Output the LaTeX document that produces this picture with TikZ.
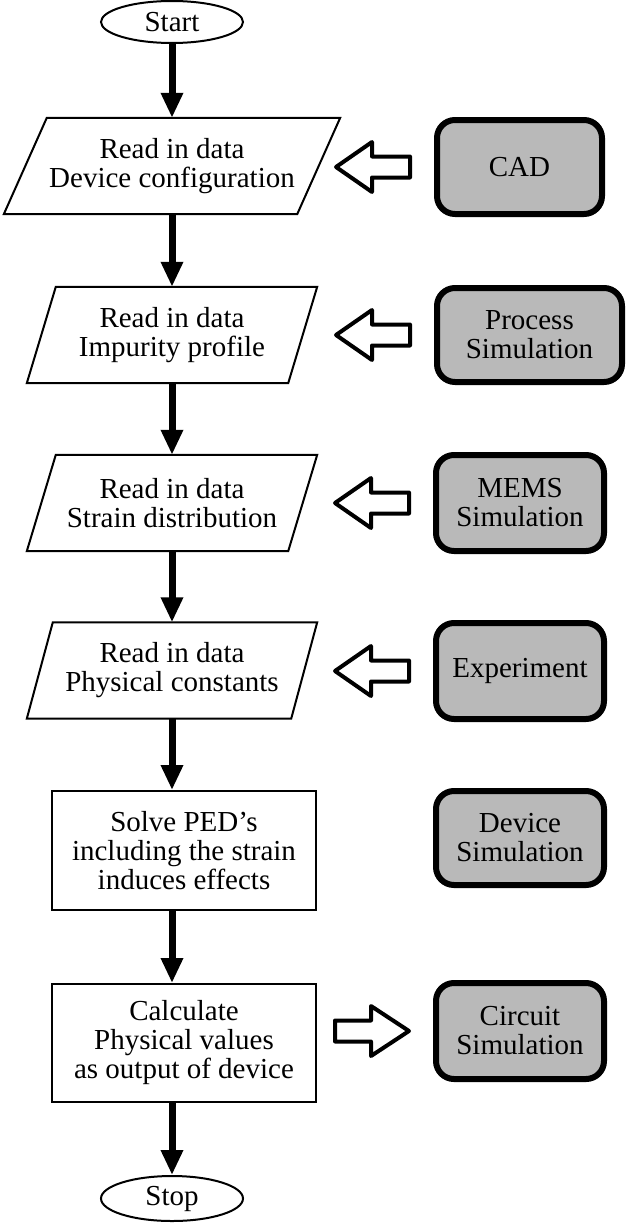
\documentclass[tikz,border=0pt]{standalone}
\usepackage{fontspec}
\setmainfont{Liberation Serif}
\usetikzlibrary{shapes.geometric,arrows.meta,calc}

\tikzset{
  txt/.style={font=\fontsize{29}{29}\selectfont, align=center, inner sep=0pt},
  term/.style={txt, ellipse, draw, line width=2pt, minimum width=142, minimum height=42},
  inbox/.style={txt, minimum height=96},
  procbox/.style={txt, draw, line width=2pt, minimum width=264, minimum height=119},
  toolbox/.style={txt, draw, line width=6pt, rounded corners=18pt, fill=gray!55, minimum width=168, minimum height=94},
  flow/.style={line width=7pt, -{Triangle[width=21pt,length=25pt]}},
  hollow/.style={line width=4pt, line join=round, fill=white},
}

\begin{document}
\begin{tikzpicture}[x=1pt, y=-1pt]
  \useasboundingbox (0,0) rectangle (626,1223);

  % Ablauf (linke Spalte)
  \node[term] (start) at (172,22) {Start};
  \node[inbox, minimum width=293] (in1) at (172,166) {Read in data\\Device configuration};
  \node[inbox, minimum width=261] (in2) at (172,335) {Read in data\\Impurity profile};
  \node[inbox, minimum width=261] (in3) at (172,503) {Read in data\\Strain distribution};
  \node[inbox, minimum width=264] (in4) at (172,670.5) {Read in data\\Physical constants};
  \node[procbox] (solve) at (184,850.5) {Solve PED’s\\including the strain\\induces effects};
  \node[procbox, minimum height=118] (calc) at (184,1043) {Calculate\\Physical values\\as output of device};
  \node[term, minimum height=45] (stop) at (172,1198.5) {Stop};

  % Parallelogramme um die Eingaben
  \foreach \n/\s in {in1/21.5, in2/14.5, in3/14.5, in4/13}
    \draw[line width=2pt] ($(\n.south west)+(-\s,0)$) -- ($(\n.north west)+(\s,0)$)
      -- ($(\n.north east)+(\s,0)$) -- ($(\n.south east)+(-\s,0)$) -- cycle;

  % Werkzeuge (rechte Spalte)
  \node[toolbox, minimum width=165] (cad) at (519.5,167) {CAD};
  \node[toolbox, minimum width=185] (process) at (529.5,335) {Process\\Simulation};
  \node[toolbox, minimum height=96] (mems) at (520,503) {MEMS\\Simulation};
  \node[toolbox, minimum height=96] (expt) at (520,671) {Experiment};
  \node[toolbox] (device) at (520,838) {Device\\Simulation};
  \node[toolbox, minimum height=96] (circuit) at (520,1031) {Circuit\\Simulation};

  % Pfeile
  \draw[flow] (start) -- (in1);
  \draw[flow] (in1) -- (in2);
  \draw[flow] (in2) -- (in3);
  \draw[flow] (in3) -- (in4);
  \draw[flow] (in4) -- (in4 |- solve.north);
  \draw[flow] (start |- solve.south) -- (start |- calc.north);
  \draw[flow] (start |- calc.south) -- (stop);

  % Hohlpfeile
  \foreach \t in {cad, process, mems, expt}
    \draw[hollow] ($(\t.west)+(-98,0)$) -- ++(36,-25) -- ++(0,14.5) -- ++(38,0)
      -- ++(0,21) -- ++(-38,0) -- ++(0,14.5) -- cycle;
  \draw[hollow] ($(circuit.west)+(-98,-10.5)$) -- ++(36,0) -- ++(0,-14.5) -- ++(38,25)
    -- ++(-38,25) -- ++(0,-14.5) -- ++(-36,0) -- cycle;
\end{tikzpicture}
\end{document}
